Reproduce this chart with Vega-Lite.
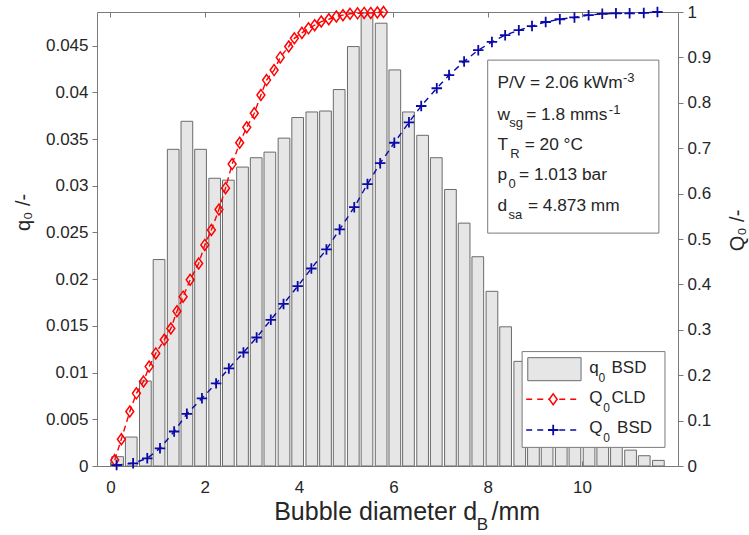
{
  "$schema": "https://vega.github.io/schema/vega-lite/v6.json",
  "width": 581,
  "height": 454,
  "autosize": {"type": "none"},
  "padding": {"left": 97, "top": 12, "right": 71, "bottom": 69},
  "background": "white",
  "config": {
    "font": "Liberation Sans",
    "view": {"stroke": null},
    "axis": {
      "grid": false,
      "domainColor": "#7a7a7a",
      "tickColor": "#7a7a7a",
      "domainWidth": 1,
      "tickWidth": 1,
      "labelColor": "#262626",
      "titleColor": "#262626",
      "labelFont": "Liberation Sans",
      "titleFont": "Liberation Sans",
      "labelFontSize": 17,
      "titleFontSize": 20,
      "titleFontWeight": "normal"
    },
    "text": {"font": "Liberation Sans"}
  },
  "datasets": {
    "bars": [
      {"d": 0.15, "q": 0.0010}, {"d": 0.44, "q": 0.0031}, {"d": 0.74, "q": 0.0091}, {"d": 1.03, "q": 0.0221},
      {"d": 1.33, "q": 0.0339}, {"d": 1.62, "q": 0.0369}, {"d": 1.91, "q": 0.0339}, {"d": 2.21, "q": 0.0308},
      {"d": 2.50, "q": 0.0306}, {"d": 2.80, "q": 0.0320}, {"d": 3.09, "q": 0.0330}, {"d": 3.38, "q": 0.0336},
      {"d": 3.68, "q": 0.0351}, {"d": 3.97, "q": 0.0373}, {"d": 4.27, "q": 0.0379}, {"d": 4.56, "q": 0.0380},
      {"d": 4.85, "q": 0.0403}, {"d": 5.15, "q": 0.0449}, {"d": 5.44, "q": 0.0485}, {"d": 5.74, "q": 0.0474},
      {"d": 6.03, "q": 0.0424}, {"d": 6.32, "q": 0.0379}, {"d": 6.62, "q": 0.0354}, {"d": 6.91, "q": 0.0330},
      {"d": 7.21, "q": 0.0296}, {"d": 7.50, "q": 0.0260}, {"d": 7.79, "q": 0.0224}, {"d": 8.09, "q": 0.0187},
      {"d": 8.38, "q": 0.0149}, {"d": 8.68, "q": 0.0112}, {"d": 8.97, "q": 0.0095}, {"d": 9.26, "q": 0.0082},
      {"d": 9.56, "q": 0.0070}, {"d": 9.85, "q": 0.0058}, {"d": 10.15, "q": 0.0046}, {"d": 10.44, "q": 0.0035},
      {"d": 10.73, "q": 0.0025}, {"d": 11.03, "q": 0.0017}, {"d": 11.32, "q": 0.0011}, {"d": 11.62, "q": 0.0006}
    ],
    "cld": [
      {"d": 0.09, "Q": 0.013}, {"d": 0.23, "Q": 0.059}, {"d": 0.41, "Q": 0.120}, {"d": 0.55, "Q": 0.160},
      {"d": 0.70, "Q": 0.186}, {"d": 0.82, "Q": 0.219}, {"d": 0.96, "Q": 0.248}, {"d": 1.14, "Q": 0.278},
      {"d": 1.28, "Q": 0.303}, {"d": 1.41, "Q": 0.341}, {"d": 1.54, "Q": 0.373}, {"d": 1.69, "Q": 0.410},
      {"d": 1.87, "Q": 0.446}, {"d": 2.00, "Q": 0.487}, {"d": 2.14, "Q": 0.520}, {"d": 2.30, "Q": 0.565},
      {"d": 2.44, "Q": 0.612}, {"d": 2.58, "Q": 0.665}, {"d": 2.74, "Q": 0.712}, {"d": 2.89, "Q": 0.746},
      {"d": 3.05, "Q": 0.777}, {"d": 3.19, "Q": 0.817}, {"d": 3.31, "Q": 0.850}, {"d": 3.47, "Q": 0.872},
      {"d": 3.60, "Q": 0.900}, {"d": 3.78, "Q": 0.924}, {"d": 3.90, "Q": 0.942}, {"d": 4.06, "Q": 0.954},
      {"d": 4.20, "Q": 0.964}, {"d": 4.33, "Q": 0.971}, {"d": 4.47, "Q": 0.979}, {"d": 4.63, "Q": 0.984},
      {"d": 4.79, "Q": 0.990}, {"d": 4.93, "Q": 0.993}, {"d": 5.08, "Q": 0.996}, {"d": 5.24, "Q": 0.997},
      {"d": 5.38, "Q": 0.998}, {"d": 5.52, "Q": 0.998}, {"d": 5.66, "Q": 0.999}, {"d": 5.79, "Q": 1.000}
    ],
    "bsd": [
      {"d": 0.13, "Q": 0.002}, {"d": 0.48, "Q": 0.006}, {"d": 0.78, "Q": 0.017}, {"d": 1.05, "Q": 0.039},
      {"d": 1.35, "Q": 0.076}, {"d": 1.62, "Q": 0.115}, {"d": 1.94, "Q": 0.149}, {"d": 2.24, "Q": 0.182},
      {"d": 2.51, "Q": 0.215}, {"d": 2.82, "Q": 0.250}, {"d": 3.10, "Q": 0.283}, {"d": 3.40, "Q": 0.322},
      {"d": 3.67, "Q": 0.357}, {"d": 3.97, "Q": 0.396}, {"d": 4.26, "Q": 0.435}, {"d": 4.58, "Q": 0.477},
      {"d": 4.86, "Q": 0.521}, {"d": 5.17, "Q": 0.570}, {"d": 5.45, "Q": 0.621}, {"d": 5.72, "Q": 0.667},
      {"d": 6.02, "Q": 0.712}, {"d": 6.33, "Q": 0.757}, {"d": 6.59, "Q": 0.793}, {"d": 6.92, "Q": 0.832},
      {"d": 7.18, "Q": 0.861}, {"d": 7.50, "Q": 0.891}, {"d": 7.80, "Q": 0.916}, {"d": 8.09, "Q": 0.934},
      {"d": 8.37, "Q": 0.949}, {"d": 8.66, "Q": 0.960}, {"d": 8.94, "Q": 0.969}, {"d": 9.23, "Q": 0.978},
      {"d": 9.53, "Q": 0.984}, {"d": 9.84, "Q": 0.988}, {"d": 10.14, "Q": 0.993}, {"d": 10.43, "Q": 0.996},
      {"d": 10.72, "Q": 0.997}, {"d": 11.01, "Q": 0.997}, {"d": 11.31, "Q": 0.998}, {"d": 11.60, "Q": 1.000}
    ],
    "labels": [
      {"t": "P/V = 2.06 kWm", "x": 8.206, "y": 0.8326, "k": "bm"},
      {"t": "-3", "x": 10.87, "y": 0.8458, "k": "bp"},
      {"t": "w", "x": 8.206, "y": 0.7632, "k": "bm"},
      {"t": "sg", "x": 8.457, "y": 0.7456, "k": "bs"},
      {"t": "= 1.8 mms", "x": 8.817, "y": 0.7632, "k": "bm"},
      {"t": "-1", "x": 10.57, "y": 0.7764, "k": "bp"},
      {"t": "T", "x": 8.206, "y": 0.6960, "k": "bm"},
      {"t": "R", "x": 8.480, "y": 0.6784, "k": "bs"},
      {"t": "= 20 °C", "x": 8.784, "y": 0.6960, "k": "bm"},
      {"t": "p", "x": 8.206, "y": 0.6289, "k": "bm"},
      {"t": "0", "x": 8.440, "y": 0.6113, "k": "bs"},
      {"t": "= 1.013 bar", "x": 8.665, "y": 0.6289, "k": "bm"},
      {"t": "d", "x": 8.206, "y": 0.5617, "k": "bm"},
      {"t": "sa", "x": 8.440, "y": 0.5441, "k": "bs"},
      {"t": "= 4.873 mm", "x": 8.853, "y": 0.5617, "k": "bm"},
      {"t": "q", "x": 10.153, "y": 0.2042, "k": "lm"},
      {"t": "0", "x": 10.350, "y": 0.1857, "k": "ls"},
      {"t": "BSD", "x": 10.626, "y": 0.2042, "k": "lm"},
      {"t": "Q", "x": 10.153, "y": 0.1381, "k": "lm"},
      {"t": "0", "x": 10.453, "y": 0.1196, "k": "ls"},
      {"t": "CLD", "x": 10.626, "y": 0.1381, "k": "lm"},
      {"t": "Q", "x": 10.153, "y": 0.0720, "k": "lm"},
      {"t": "0", "x": 10.453, "y": 0.0535, "k": "ls"},
      {"t": "BSD", "x": 10.744, "y": 0.0720, "k": "lm"},
      {"t": "Bubble diameter d", "x": 3.472, "y": -0.1189, "k": "tm"},
      {"t": "B", "x": 7.769, "y": -0.141, "k": "ts"},
      {"t": "/mm", "x": 8.081, "y": -0.1189, "k": "tm"}
    ]
  },
  "layer": [
    {
      "data": {"name": "bars"},
      "mark": {"type": "bar", "size": 11.7, "fill": "#e6e6e6", "stroke": "#6b6b6b", "strokeWidth": 1},
      "encoding": {
        "x": {
          "field": "d", "type": "quantitative",
          "scale": {"domain": [-0.18, 11.93], "nice": false, "zero": false},
          "axis": {"orient": "bottom", "values": [0, 2, 4, 6, 8, 10], "format": "d", "tickSize": -5, "labelPadding": 18, "title": null}
        },
        "y": {
          "field": "q", "type": "quantitative",
          "scale": {"domain": [0, 0.0486], "nice": false},
          "axis": {
            "orient": "left",
            "values": [0, 0.005, 0.01, 0.015, 0.02, 0.025, 0.03, 0.035, 0.04, 0.045],
            "format": "~g", "tickSize": 5, "labelPadding": 4,
            "title": "q₀ /-", "titleAngle": 270, "titleX": -64, "titleY": 200,
            "titleBaseline": "bottom", "titleAlign": "center", "titleFontSize": 20
          }
        }
      }
    },
    {
      "layer": [
        {
          "data": {"name": "cld"},
          "mark": {"type": "line", "color": "#ff0000", "strokeDash": [6, 4], "strokeWidth": 1.4},
          "encoding": {
            "x": {
              "field": "d", "type": "quantitative",
              "scale": {"domain": [-0.18, 11.93], "nice": false, "zero": false},
              "axis": {"orient": "top", "values": [0, 2, 4, 6, 8, 10], "labels": false, "tickSize": -5, "title": null}
            },
            "y": {
              "field": "Q", "type": "quantitative",
              "scale": {"domain": [0, 1], "nice": false},
              "axis": {
                "orient": "right",
                "values": [0, 0.1, 0.2, 0.3, 0.4, 0.5, 0.6, 0.7, 0.8, 0.9, 1],
                "format": "~g", "tickSize": 5, "labelPadding": 4,
                "title": "Q₀ /-", "titleAngle": 270, "titleX": 69, "titleY": 218,
                "titleBaseline": "bottom", "titleAlign": "center", "titleFontSize": 20
              }
            }
          }
        },
        {
          "data": {"name": "cld"},
          "mark": {"type": "point", "shape": "M0,-1L0.72,0L0,1L-0.72,0Z", "filled": false, "size": 120, "stroke": "#ff0000", "strokeWidth": 1.5, "opacity": 1},
          "encoding": {
            "x": {"field": "d", "type": "quantitative"},
            "y": {"field": "Q", "type": "quantitative"}
          }
        },
        {
          "data": {"name": "bsd"},
          "mark": {"type": "line", "color": "#0a0aa8", "strokeDash": [6, 5], "strokeWidth": 1.4},
          "encoding": {
            "x": {"field": "d", "type": "quantitative"},
            "y": {"field": "Q", "type": "quantitative"}
          }
        },
        {
          "data": {"name": "bsd"},
          "mark": {"type": "point", "shape": "M-1,0L1,0M0,-1L0,1", "filled": false, "size": 110, "stroke": "#0a0aa8", "strokeWidth": 1.8, "opacity": 1},
          "encoding": {
            "x": {"field": "d", "type": "quantitative"},
            "y": {"field": "Q", "type": "quantitative"}
          }
        },
        {
          "data": {"values": [{}]},
          "mark": {"type": "rect", "fill": "white", "stroke": "#7a7a7a", "strokeWidth": 1},
          "encoding": {
            "x": {"datum": 8.0, "type": "quantitative"},
            "x2": {"datum": 11.63},
            "y": {"datum": 0.513, "type": "quantitative"},
            "y2": {"datum": 0.894}
          }
        },
        {
          "data": {"values": [{}]},
          "mark": {"type": "rect", "fill": "white", "stroke": "#7a7a7a", "strokeWidth": 1},
          "encoding": {
            "x": {"datum": 8.73, "type": "quantitative"},
            "x2": {"datum": 11.76},
            "y": {"datum": 0.041, "type": "quantitative"},
            "y2": {"datum": 0.252}
          }
        },
        {
          "data": {"values": [{}]},
          "mark": {"type": "rect", "fill": "#e6e6e6", "stroke": "#6b6b6b", "strokeWidth": 1},
          "encoding": {
            "x": {"datum": 8.85, "type": "quantitative"},
            "x2": {"datum": 9.98},
            "y": {"datum": 0.1879, "type": "quantitative"},
            "y2": {"datum": 0.2386}
          }
        },
        {
          "data": {"values": [{}]},
          "mark": {"type": "rule", "color": "#ff0000", "strokeDash": [6, 5], "strokeWidth": 1.4},
          "encoding": {
            "x": {"datum": 8.817, "type": "quantitative"},
            "x2": {"datum": 9.881},
            "y": {"datum": 0.1469, "type": "quantitative"}
          }
        },
        {
          "data": {"values": [{}]},
          "mark": {"type": "point", "shape": "M0,-1L0.72,0L0,1L-0.72,0Z", "filled": true, "fill": "white", "size": 120, "stroke": "#ff0000", "strokeWidth": 1.5, "opacity": 1},
          "encoding": {
            "x": {"datum": 9.389, "type": "quantitative"},
            "y": {"datum": 0.1469, "type": "quantitative"}
          }
        },
        {
          "data": {"values": [{}]},
          "mark": {"type": "rule", "color": "#0a0aa8", "strokeDash": [6, 5], "strokeWidth": 1.4},
          "encoding": {
            "x": {"datum": 8.817, "type": "quantitative"},
            "x2": {"datum": 9.881},
            "y": {"datum": 0.0793, "type": "quantitative"}
          }
        },
        {
          "data": {"values": [{}]},
          "mark": {"type": "point", "shape": "M-1,0L1,0M0,-1L0,1", "filled": false, "size": 110, "stroke": "#0a0aa8", "strokeWidth": 1.8, "opacity": 1},
          "encoding": {
            "x": {"datum": 9.389, "type": "quantitative"},
            "y": {"datum": 0.0793, "type": "quantitative"}
          }
        },
        {
          "data": {"name": "labels"},
          "transform": [{"filter": "datum.k == 'bm'"}],
          "mark": {"type": "text", "align": "left", "baseline": "alphabetic", "fontSize": 17.3, "color": "#262626"},
          "encoding": {
            "x": {"field": "x", "type": "quantitative"},
            "y": {"field": "y", "type": "quantitative"},
            "text": {"field": "t"}
          }
        },
        {
          "data": {"name": "labels"},
          "transform": [{"filter": "datum.k == 'bs' || datum.k == 'bp'"}],
          "mark": {"type": "text", "align": "left", "baseline": "alphabetic", "fontSize": 13, "color": "#262626"},
          "encoding": {
            "x": {"field": "x", "type": "quantitative"},
            "y": {"field": "y", "type": "quantitative"},
            "text": {"field": "t"}
          }
        },
        {
          "data": {"name": "labels"},
          "transform": [{"filter": "datum.k == 'lm' || datum.k == 'ts'"}],
          "mark": {"type": "text", "align": "left", "baseline": "alphabetic", "fontSize": 17, "color": "#262626"},
          "encoding": {
            "x": {"field": "x", "type": "quantitative"},
            "y": {"field": "y", "type": "quantitative"},
            "text": {"field": "t"}
          }
        },
        {
          "data": {"name": "labels"},
          "transform": [{"filter": "datum.k == 'ls'"}],
          "mark": {"type": "text", "align": "left", "baseline": "alphabetic", "fontSize": 12, "color": "#262626"},
          "encoding": {
            "x": {"field": "x", "type": "quantitative"},
            "y": {"field": "y", "type": "quantitative"},
            "text": {"field": "t"}
          }
        },
        {
          "data": {"name": "labels"},
          "transform": [{"filter": "datum.k == 'tm'"}],
          "mark": {"type": "text", "align": "left", "baseline": "alphabetic", "fontSize": 25, "color": "#262626"},
          "encoding": {
            "x": {"field": "x", "type": "quantitative"},
            "y": {"field": "y", "type": "quantitative"},
            "text": {"field": "t"}
          }
        }
      ]
    }
  ],
  "resolve": {"scale": {"y": "independent"}}
}
